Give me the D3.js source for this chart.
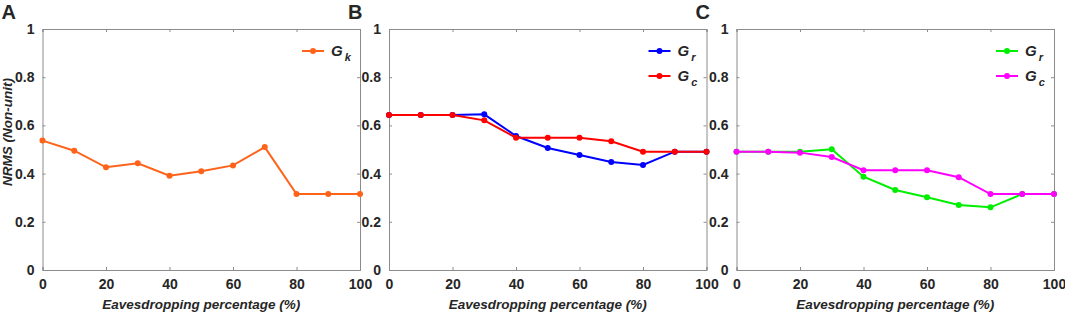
<!DOCTYPE html>
<html>
<head>
<meta charset="utf-8">
<script src="https://cdn.jsdelivr.net/npm/d3@7"></script>
<style>
  body { margin: 0; background: #fff; }
  svg text { font-family: "Liberation Sans", Arial, sans-serif; fill: #262626; }
</style>
</head>
<body>
<div id="chart"></div>
<script>
// eavesdropping percentage (x) and NRMS series
var pct = [0, 10, 20, 30, 40, 50, 60, 70, 80, 90, 100];
var gk  = [0.537, 0.495, 0.426, 0.443, 0.391, 0.41, 0.434, 0.51, 0.315, 0.315, 0.315];
var gr_b = [0.643, 0.643, 0.643, 0.646, 0.556, 0.506, 0.477, 0.448, 0.436, 0.491, 0.491];
var gc_b = [0.643, 0.643, 0.643, 0.621, 0.549, 0.549, 0.549, 0.534, 0.491, 0.491, 0.491];
var gr_c = [0.491, 0.491, 0.491, 0.501, 0.387, 0.332, 0.302, 0.27, 0.26, 0.315, 0.315];
var gc_c = [0.491, 0.491, 0.487, 0.469, 0.414, 0.414, 0.414, 0.385, 0.315, 0.315, 0.315];
var xticks = [0, 20, 40, 60, 80, 100];
var yticks = [0, 0.2, 0.4, 0.6, 0.8, 1];

var panels = [
  {tag: "A", left: 42.5, series: [{name: "k", color: "#ff6319", vals: gk}]},
  {tag: "B", left: 389, series: [{name: "r", color: "#0000ff", vals: gr_b},
                                 {name: "c", color: "#ff0000", vals: gc_b}]},
  {tag: "C", left: 736.5, series: [{name: "r", color: "#00ee00", vals: gr_c},
                                   {name: "c", color: "#ff00ff", vals: gc_c}]}
];

var W = 1065, H = 312;
var pw = 317.5, plotTop = 29, plotBottom = 270;

var svg = d3.select("#chart").append("svg")
    .attr("width", W).attr("height", H);

panels.forEach(function(p, pi) {
  var x = d3.scaleLinear().domain([0, 100]).range([p.left, p.left + pw]);
  var y = d3.scaleLinear().domain([0, 1]).range([plotBottom, plotTop]);
  var g = svg.append("g");

  // axes with inward ticks, box around the plot
  var axB = g.append("g").attr("transform", "translate(0," + plotBottom + ")")
      .call(d3.axisBottom(x).tickValues(xticks).tickSize(-3).tickPadding(9).tickFormat(d3.format("d")));
  var axT = g.append("g").attr("transform", "translate(0," + plotTop + ")")
      .call(d3.axisTop(x).tickValues(xticks).tickSize(-3).tickFormat(""));
  var axL = g.append("g").attr("transform", "translate(" + p.left + ",0)")
      .call(d3.axisLeft(y).tickValues(yticks).tickSize(-3).tickPadding(8).tickFormat(function(d) { return d3.format("")(+d.toFixed(1)); }));
  var axR = g.append("g").attr("transform", "translate(" + (p.left + pw) + ",0)")
      .call(d3.axisRight(y).tickValues(yticks).tickSize(-3).tickFormat(""));

  [axB, axT, axL, axR].forEach(function(a) {
    a.select(".domain").attr("stroke", "#8c8c8c").attr("stroke-width", 1);
    a.selectAll(".tick line").attr("stroke", "#8c8c8c");
    a.selectAll("text").style("font-size", "14px").style("font-weight", "bold")
      .attr("fill", "#262626");
  });

  // panel letter
  g.append("text").attr("x", p.left - 41).attr("y", 19)
    .style("font-size", "20px").style("font-weight", "bold").text(p.tag);

  // x title
  g.append("text").attr("x", p.left + pw / 2).attr("y", 309)
    .attr("text-anchor", "middle")
    .style("font-size", "13.5px").style("font-weight", "bold").style("font-style", "italic")
    .text("Eavesdropping percentage (%)");

  if (pi === 0) {
    g.append("text").attr("transform", "translate(12,132) rotate(-90)")
      .attr("text-anchor", "middle")
      .style("font-size", "13.5px").style("font-weight", "bold").style("font-style", "italic")
      .text("NRMS (Non-unit)");
  }

  var line = d3.line().x(function(d, i) { return x(pct[i]); }).y(function(d) { return y(d); });

  p.series.forEach(function(s, si) {
    g.append("path").datum(s.vals)
      .attr("fill", "none").attr("stroke", s.color).attr("stroke-width", 2)
      .attr("d", line);
    g.selectAll(".pt" + si).data(s.vals).enter().append("circle")
      .attr("cx", function(d, i) { return x(pct[i]); })
      .attr("cy", function(d) { return y(d); })
      .attr("r", 3).attr("fill", s.color);

    // legend entry
    var ly = 51 + si * 25, lx = p.left + pw - 58;
    g.append("line").attr("x1", lx).attr("x2", lx + 22).attr("y1", ly).attr("y2", ly)
      .attr("stroke", s.color).attr("stroke-width", 2);
    g.append("circle").attr("cx", lx + 11).attr("cy", ly).attr("r", 3).attr("fill", s.color);
    var t = g.append("text").attr("x", lx + 29).attr("y", ly + 5)
      .style("font-size", "15px").style("font-weight", "bold").style("font-style", "italic");
    t.append("tspan").text("G");
    t.append("tspan").attr("dx", 2).attr("dy", 5).style("font-size", "11px").text(s.name);
  });
});
</script>
</body>
</html>
